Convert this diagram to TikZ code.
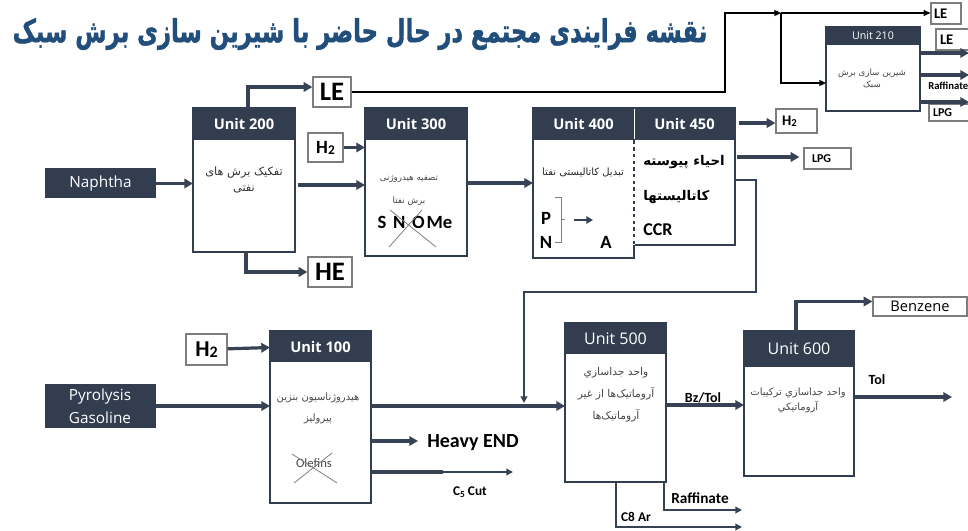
\documentclass[tikz,border=0pt]{standalone}
\usepackage{fontspec}
\usepackage{graphicx}
\usetikzlibrary{arrows.meta,calc}
\TeXXeTstate=1
\setmainfont{Carlito}
\newfontfamily\fa[Script=Arabic]{DejaVu Sans}
\newfontfamily\fatitle[Script=Arabic,BoldFeatures={FakeBold=1.5}]{DejaVu Sans}
\newfontfamily\os{Open Sans}
\definecolor{navy}{RGB}{50,62,80}
\definecolor{navyline}{RGB}{55,66,84}
\definecolor{ttl}{RGB}{33,78,122}
\definecolor{boxgray}{RGB}{125,125,125}
\definecolor{txtgray}{RGB}{70,70,70}
\newcommand\fatxt[1]{{\fa\beginR #1\endR}}
\newcommand\fs[1]{\fontsize{#1}{#1}\selectfont}
\newcommand\mkunit[7]{%
  \node[fill=white,inner sep=0pt,outer sep=0pt,anchor=north west,minimum width=#4*0.75pt,minimum height=#5*0.75pt] (#1) at (#2,#3) {};
  \fill[navy] (#1.north west) rectangle ($(#1.north east)+(0,#6)$);
  \node[text=white,inner sep=0pt] (#1h) at ($(#1.north)+(0,#6/2)$) {#7};
  \draw[navy,line width=1.6pt] (#1.north west) rectangle (#1.south east);
}
\begin{document}
\begin{tikzpicture}[x=0.75pt,y=-0.75pt,
  sz/.style 2 args={minimum width=#1*0.75pt,minimum height=#2*0.75pt},
  lbx/.style={draw=boxgray,line width=0.9pt,fill=white,inner sep=0pt,text=black},
  dark/.style={fill=navy,text=white,inner sep=0pt,font=\os\fontsize{11.5}{17}\selectfont,align=center},
  thk/.style={draw=navyline,line width=2.4pt,-{Triangle[length=6.5pt,width=7pt]}},
  thkp/.style={draw=navyline,line width=2.4pt},
  med/.style={draw=navyline,line width=1.5pt},
  meda/.style={med,-{Triangle[length=5pt,width=5pt]}},
  thn/.style={draw=black,line width=0.9pt},
  thna/.style={thn,-{Triangle[length=5pt,width=4.5pt]}},
  fasm/.style={text=txtgray,align=center,inner sep=0pt},
  xline/.style={draw=gray,line width=0.6pt},
  lab/.style={inner sep=0pt,text=black},
]
\useasboundingbox (0,0) rectangle (968,531);
\fill[white] (0,0) rectangle (968,531);

% title
\node[text=ttl,inner sep=0pt] (title) at (360,34) {\scalebox{1}[1.4]{\resizebox{521pt}{!}{\fatitle\bfseries\beginR نقشه فرایندی مجتمع در حال حاضر با شیرین سازی برش سبک\endR}}};

% units
\mkunit{u200}{193}{108}{102}{144}{32}{\os\bfseries\fs{11}Unit 200}
\mkunit{u300}{365}{108}{102}{148}{32}{\os\bfseries\fs{11}Unit 300}
\mkunit{u400}{533}{108}{101}{150}{32}{\os\bfseries\fs{11}Unit 400}
\mkunit{u450}{634}{108}{101}{137}{32}{\os\bfseries\fs{11}Unit 450}
\mkunit{u210}{826}{27}{94}{84}{18}{\os\fs{8}Unit 210}
\mkunit{u100}{270}{331}{101}{172}{31}{\os\bfseries\fs{11}Unit 100}
\mkunit{u500}{565}{323}{101}{159}{31}{\os\fs{12}Unit 500}
\mkunit{u600}{744}{331}{110}{145}{36}{\os\fs{12}Unit 600}
\draw[white,line width=0.6pt] ($(u450.north west)+(0,1)$) -- ($(u450.north west)+(0,31)$);
\draw[white,line width=1pt,dash pattern=on 2.5pt off 2.5pt] ($(u450.north west)+(0,36)$) -- (u450.south west);

% feeds
\node[dark,sz={111}{30}] (naph) at (100.5,183.5) {Naphtha};
\node[dark,sz={111}{44}] (pyro) at (100,406) {Pyrolysis\\Gasoline};

% label boxes
\node[lbx,sz={38}{30},font=\bfseries\fs{20}] (le1) at (332,92) {LE};
\node[lbx,sz={44}{30},font=\bfseries\fs{20}] (he) at (330,272) {HE};
\node[lbx,sz={35}{29},font=\bfseries\fs{14}] (h2a) at (325.5,147.5) {H\raisebox{-0.1ex}{\fs{10}2}};
\node[lbx,sz={41}{31},font=\bfseries\fs{17}] (h2c) at (206.5,349.5) {H\raisebox{-0.1ex}{\fs{12}2}};
\node[lbx,minimum height=24*0.75pt,text width=29*0.75pt,inner xsep=6*0.75pt,align=left,font=\bfseries\fs{11}] (h2b) at (796.5,121) {H\raisebox{-0.1ex}{\fs{8}2}};
\node[lbx,minimum height=21*0.75pt,text width=31*0.75pt,inner xsep=8*0.75pt,align=left,font=\bfseries\fs{9}] (lpg1) at (827.5,158.5) {LPG};
\node[lbx,minimum height=21*0.75pt,text width=24*0.75pt,inner xsep=3*0.75pt,align=left,font=\bfseries\fs{11}] (le3) at (946,13.5) {LE};
\node[lbx,minimum height=21*0.75pt,text width=36*0.75pt,inner xsep=4*0.75pt,align=left,font=\bfseries\fs{11}] (le2) at (958,39.5) {LE};
\node[lbx,minimum height=17*0.75pt,text width=38*0.75pt,inner xsep=4*0.75pt,align=left,font=\bfseries\fs{9}] (lpg2) at (952,112.5) {LPG};
\node[lbx,sz={94}{19},font=\os\fs{11}] (benz) at (920,306.5) {Benzene};

% unit texts
\node[fasm,text=black!80,font=\fontsize{8.5}{12}\selectfont] (t200) at (244,179.5) {\fatxt{تفکیک برش های}\\\fatxt{نفتی}};
\node[fasm,font=\fontsize{6.5}{17}\selectfont] (t300) at (409,190.5) {\fatxt{تصفیه هیدروژنی}\\\fatxt{برش نفتا}};
\node[lab,font=\bfseries\fs{14}] (snome) at (415,222) {S\hspace{5pt}N\hspace{5pt}O\hspace{1.5pt}Me};
\draw[xline] (390,210) -- (436,247);
\draw[xline] (389,247) -- (422,210);
\node[fasm,text=black!85,font=\fs{7.5}] (t400) at (583,172) {\fatxt{تبدیل کاتالیستی نفتا}};
\node[lab,font=\bfseries\fs{14}] (pp) at (546,218) {P};
\node[lab,font=\bfseries\fs{14}] (nn) at (546,242) {N};
\node[lab,font=\bfseries\fs{14}] (aa) at (606,242) {A};
\draw[gray,line width=0.6pt] (555,197) -- (561,197) -- (561,242) -- (555,242);
\draw[gray,line width=0.6pt] (561,219) -- (565,219);
\coordinate (pa1) at (574,220);
\coordinate (pa2) at (593,220);
\draw[draw=navyline,line width=1.8pt,-{Triangle[length=5pt,width=5.5pt]}] (pa1) -- (pa2);
\node[lab,anchor=west,font=\bfseries\fs{10}] (t450a) at (643,162) {\fatxt{احیاء پیوسته}};
\node[lab,anchor=west,font=\bfseries\fs{10}] (t450b) at (643,197) {\fatxt{کاتالیستها}};
\node[lab,anchor=west,font=\bfseries\fs{13.5}] (ccr) at (643,230) {CCR};
\node[fasm,font=\fontsize{6.5}{9}\selectfont] (t210) at (872,79) {\fatxt{شیرین سازی برش}\\\fatxt{سبک}};
\node[fasm,font=\fontsize{7.5}{16}\selectfont] (t100) at (318,408.5) {\fatxt{هیدروژناسیون بنزین}\\\fatxt{پیرولیز}};
\node[fasm,font=\fs{9.5}] (olef) at (314,463) {Olefins};
\draw[xline] (292,454) -- (337,483);
\draw[xline] (294,483) -- (332,453);
\node[fasm,font=\fontsize{8}{16.5}\selectfont] (t500) at (616,395) {\fatxt{واحد جداسازي}\\\fatxt{آروماتيک‌ها از غير}\\\fatxt{آروماتيک‌ها}};
\node[fasm,font=\fontsize{7.5}{11}\selectfont] (t600) at (798,400.5) {\fatxt{واحد جداسازي تركيبات}\\\fatxt{آروماتيكي}};

% stream labels
\node[lab,anchor=west,font=\bfseries\fs{15}] (heavy) at (427,443) {Heavy END};
\node[lab,font=\bfseries\fs{10}] (c5) at (470,492) {C\raisebox{-0.3ex}{\fs{7}5} Cut};
\node[lab,font=\bfseries\fs{10.5}] (bz) at (703,398) {Bz/Tol};
\node[lab,font=\bfseries\fs{10.5}] (tol) at (877,380) {Tol};
\node[lab,font=\bfseries\fs{11.5}] (raf) at (700,498) {Raffinate};
\node[lab,font=\bfseries\fs{10}] (c8) at (636,517) {C8 Ar};
\node[lab,anchor=west,font=\bfseries\fs{8}] (raf2) at (928,86) {Raffinate};

% connectors upper
\coordinate (ya) at (0,185);
\coordinate (yb) at (0,183);
\draw[thk] (naph) -- (naph -| u200.west);
\draw[thk] ($(u200.east |- ya)+(3,0)$) -- (u300.west |- ya);
\draw[thk] (u300.east |- yb) -- (u400.west |- yb);
\draw[thk] ($(u200.north west)+(55,0)$) |- ($(le1.west)+(0,-5)$);
\draw[thk] ($(u200.south west)+(53,0)$) |- (he.west);
\draw[thk] (h2a) -- (h2a -| u300.west);

% top thin line
\coordinate (tx) at (725,0);
\coordinate (j1) at (781,13);
\coordinate (y83) at (0,83);
\draw[thna] (le1.east) -- (le1.east -| tx) |- (j1);
\draw[thna] (j1) -- (le3.west |- j1);
\draw[thna] (j1) |- (u210.west |- y83);

% unit 210 outputs
\coordinate (e1) at (969,53);
\coordinate (e2) at (969,75);
\coordinate (e3) at (969,102);
\draw[thk] (u210.east |- e1) -- (e1);
\draw[thk] (u210.east |- e2) -- (e2);
\draw[thk] (u210.east |- e3) -- (e3);

% unit 450 outputs
\coordinate (y123) at (0,123);
\coordinate (y157) at (0,157);
\draw[thk] ($(u450.east |- y123)+(4,0)$) -- (h2b.west |- y123);
\draw[thk] ($(u450.east |- y157)+(2,0)$) -- ($(lpg1.west |- y157)+(-4,0)$);

% lower
\draw[thk] (pyro) -- (pyro -| u100.west);
\draw[thk] (h2c) -- ($(h2c -| u100.west)+(0,-2)$);
\draw[thk] (u100.east |- pyro) -- (u500.west |- pyro);
\coordinate (y441) at (0,441);
\coordinate (y472) at (0,472);
\coordinate (c5m) at (443,472);
\coordinate (c5e) at (513,472);
\draw[thk] (u100.east |- y441) -- ($(heavy.west |- y441)+(-9,0)$);
\draw[thkp] (u100.east |- y472) -- (c5m);
\draw[meda] (c5m) -- (c5e);

% recycle from 450 to 500 feed
\coordinate (r1) at (756,180);
\coordinate (r2) at (756,292);
\coordinate (r3) at (524,292);
\coordinate (r4) at (524,403);
\draw[med,-{Triangle[length=5pt,width=5pt]}] (u450.east |- r1) -- (r1) -- (r2) -- (r3) -- (r4);

% 500 / 600
\coordinate (y405) at (0,405);
\coordinate (y397) at (0,397);
\coordinate (tole) at (952,397);
\coordinate (rafe) at (742,510);
\coordinate (c8e) at (742,527);
\draw[thk] (u500.east |- y405) -- (u600.west |- y405);
\draw[thk] ($(u600.north west)+(52,0)$) |- ($(benz.west)+(0,-5)$);
\draw[thk] (u600.east |- y397) -- (tole);
\draw[meda] ($(u500.south east)+(-2,0)$) |- (rafe);
\draw[meda] ($(u500.south west)+(51,0)$) |- (c8e);
\end{tikzpicture}
\end{document}
